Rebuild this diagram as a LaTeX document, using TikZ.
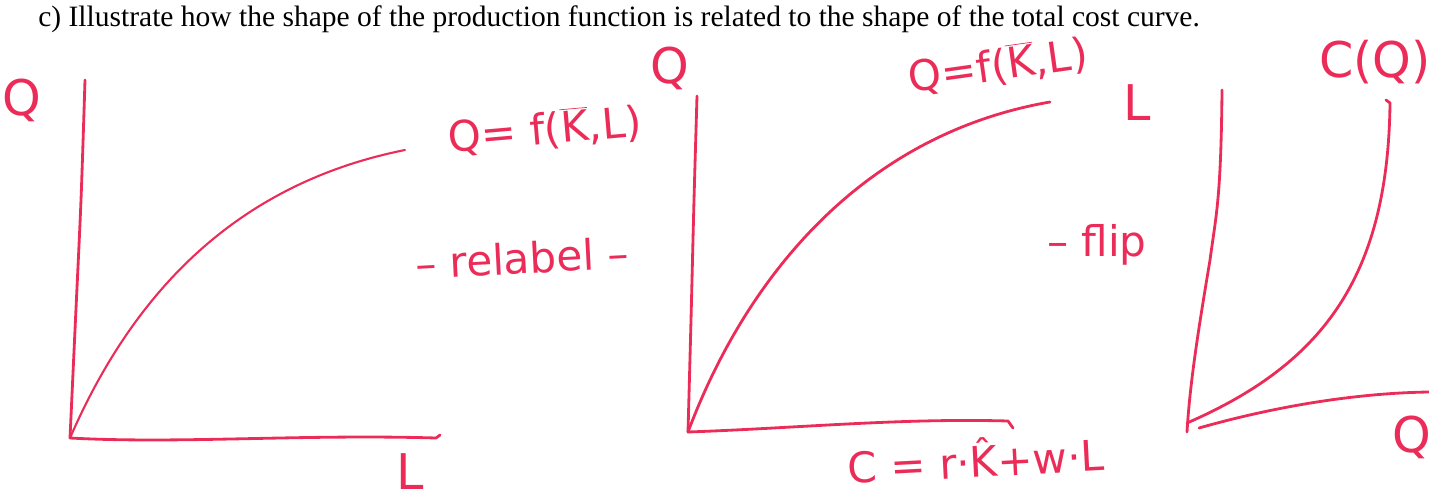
\documentclass[tikz,border=0pt]{standalone}
\usepackage{fontspec}
\setmainfont{Liberation Serif}
\newfontfamily\handfont{DejaVu Sans}
\definecolor{ink}{RGB}{236,44,88}
\newcommand{\barK}{$\overline{\mbox{K}}$}
\tikzset{
  pen/.style={draw=ink, line width=1.6pt, line cap=round, line join=round},
  thinpen/.style={draw=ink, line width=1.2pt, line cap=round, line join=round},
  hand/.style={text=ink, inner sep=0pt, font=\handfont\fontsize{24}{28}\selectfont},
  bighand/.style={text=ink, inner sep=0pt, font=\handfont\fontsize{28}{32}\selectfont},
}
\begin{document}
\begin{tikzpicture}[x=0.02cm, y=-0.02cm]
\useasboundingbox (0,0) rectangle (1429,500);
% title
\node[anchor=base west, inner sep=0pt, font=\fontsize{16.8}{20}\selectfont] (title) at (38,27)
  {c) Illustrate how the shape of the production function is related to the shape of the total cost curve.};

% ---------- graph 1 ----------
\coordinate (o1) at (70,438);
\coordinate (y1) at (85,80);
\coordinate (x1) at (440,435);
\coordinate (e1) at (405,150);
\draw[pen] plot[smooth] coordinates {(85,80) (81,200) (75,330) (70,438)};
\draw[pen] (o1) .. controls (180,444) and (300,434) .. (436,438) -- (x1);
\draw[thinpen] (o1) .. controls (130,300) and (230,185) .. (e1);
\node[bighand] (q1) at (22,100) {Q};
\node[bighand] (l1) at (410,472) {L};
\node[hand, rotate=5] (f1) at (545,130) {Q= f(\barK,L)};
\node[hand, rotate=3] (rl) at (522,258) {– relabel –};

% ---------- graph 2 ----------
\coordinate (o2) at (688,432);
\coordinate (y2) at (697,96);
\coordinate (x2) at (1013,428);
\coordinate (e2) at (1050,102);
\draw[pen] plot[smooth] coordinates {(697,96) (694,200) (691,320) (688,432)};
\draw[pen] (o2) .. controls (800,428) and (900,418) .. (1008,421) -- (x2);
\draw[pen] (o2) .. controls (745,280) and (860,135) .. (e2);
\node[bighand] (q2) at (670,68) {Q};
\node[hand, rotate=8] (f2) at (998,66) {Q=f(\barK,L)};
\node[bighand] (l2) at (1137,103) {L};
\node[hand] (fl) at (1097,245) {– flip};
\node[hand, rotate=3] (cost) at (976,458) {C = r·\^K+w·L};

% ---------- graph 3 ----------
\coordinate (o3) at (1187,432);
\coordinate (y3) at (1222,90);
\coordinate (x3) at (1429,392);
\coordinate (e3) at (1390,103);
\draw[pen] (y3) .. controls (1221,200) and (1216,215) .. (1210,260) .. controls (1200,320) and (1190,380) .. (o3);
\draw[pen] (1199,428) .. controls (1280,405) and (1360,393) .. (x3);
\draw[pen] (1187,423) .. controls (1320,365) and (1388,280) .. (e3) -- (1386,100);
\node[bighand] (c3) at (1375,62) {C(Q)};
\node[bighand] (q3) at (1412,437) {Q};
\end{tikzpicture}
\end{document}
